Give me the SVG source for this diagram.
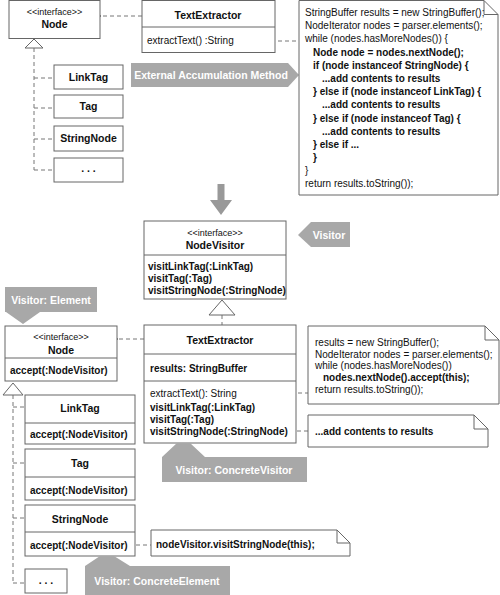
<svg xmlns="http://www.w3.org/2000/svg" width="500" height="595" viewBox="0 0 500 595">
<defs>
<marker id="open" markerWidth="12" markerHeight="10" refX="1" refY="5" orient="auto" markerUnits="userSpaceOnUse">
<polyline points="10,1 1,5 10,9" fill="none" stroke="#666" stroke-width="1"/>
</marker>
</defs>
<style>
text{font-family:"Liberation Sans",Arial,sans-serif;fill:#111}
.box{fill:#fff;stroke:#666;stroke-width:1}
.ln{stroke:#666;stroke-width:1}
.dash{fill:none;stroke:#777;stroke-width:1;stroke-dasharray:4,3}
.tri{fill:#fff;stroke:#666;stroke-width:1}
.st{font-size:9px;text-anchor:middle}
.nm{font-size:10.5px;font-weight:bold;text-anchor:middle}
.b{font-size:10px;font-weight:bold}
.r{font-size:10px}
.lab{fill:#a8a8a8}
.lt{font-size:10.5px;font-weight:bold;fill:#fff;text-anchor:middle}
.note{fill:#fff;stroke:#666;stroke-width:1}
</style>
<rect width="500" height="595" fill="#fff"/>

<g id="connectors">
<line class="dash" x1="142" y1="16" x2="101" y2="16" marker-end="url(#open)"/>
<line class="dash" x1="236" y1="41" x2="299" y2="41"/>
<polyline class="dash" points="34,48 34,170"/>
<line class="dash" x1="34" y1="78" x2="54" y2="78"/>
<line class="dash" x1="34" y1="108" x2="54" y2="108"/>
<line class="dash" x1="34" y1="139" x2="54" y2="139"/>
<line class="dash" x1="34" y1="170" x2="54" y2="170"/>
<polygon class="tri" points="34,39 25,48 43,48"/>
<polygon fill="#999" points="217.5,184 224.5,184 224.5,200 232,200 221,215 210,200 217.5,200"/>
<line class="dash" x1="222" y1="315" x2="222" y2="325"/>
<polygon class="tri" points="222,300 209,315 235,315"/>
<line class="dash" x1="144" y1="339" x2="118" y2="339" marker-end="url(#open)"/>
<line class="dash" x1="242" y1="393" x2="308" y2="393"/>
<line class="dash" x1="283" y1="431" x2="308" y2="431"/>
<polyline class="dash" points="13,395 13,583"/>
<line class="dash" x1="13" y1="407" x2="25" y2="407"/>
<line class="dash" x1="13" y1="463" x2="25" y2="463"/>
<line class="dash" x1="13" y1="518" x2="25" y2="518"/>
<line class="dash" x1="13" y1="583" x2="25" y2="583"/>
<polygon class="tri" points="13,383 3,395 23,395"/>
<line class="dash" x1="129" y1="545" x2="151" y2="545"/>
</g>

<g id="node-top">
<rect class="box" x="9" y="0.5" width="91" height="38"/>
<text class="st" x="54.5" y="15">&lt;&lt;interface&gt;&gt;</text>
<text class="nm" x="54.5" y="28">Node</text>
</g>

<g id="textextractor-top">
<rect class="box" x="142" y="0.5" width="133" height="52"/>
<line class="ln" x1="142" y1="27" x2="275" y2="27"/>
<text class="nm" x="208" y="19">TextExtractor</text>
<text class="r" x="147" y="44">extractText() :String</text>
</g>

<g id="linktag-top"><rect class="box" x="54" y="65" width="69" height="24"/><text class="nm" x="88.5" y="81">LinkTag</text></g>
<g id="tag-top"><rect class="box" x="54" y="95" width="69" height="23"/><text class="nm" x="88.5" y="110">Tag</text></g>
<g id="stringnode-top"><rect class="box" x="54" y="126" width="69" height="25"/><text class="nm" x="88.5" y="142">StringNode</text></g>
<g id="more-top"><rect class="box" x="54" y="158" width="69" height="24"/><text class="nm" x="88.5" y="172">. . .</text></g>

<g id="label-external">
<polygon class="lab" points="131,63 288,63 299,75 288,87 131,87"/>
<text class="lt" x="211" y="79">External Accumulation Method</text>
</g>

<g id="note-top">
<polygon class="note" points="299,0.5 484,0.5 498,14.5 498,195 299,195"/>
<polyline fill="none" stroke="#666" points="484,0.5 484,14.5 498,14.5"/>
<text class="r" x="305" y="16">StringBuffer results = new StringBuffer();</text>
<text class="r" x="305" y="29">NodeIterator nodes = parser.elements();</text>
<text class="r" x="305" y="42">while (nodes.hasMoreNodes()) {</text>
<text class="b" x="313" y="55.5">Node node = nodes.nextNode();</text>
<text class="b" x="313" y="68.5">if (node instanceof StringNode) {</text>
<text class="b" x="322" y="81.5">...add contents to results</text>
<text class="b" x="313" y="95">} else if (node instanceof LinkTag) {</text>
<text class="b" x="322" y="108">...add contents to results</text>
<text class="b" x="313" y="121.5">} else if (node instanceof Tag) {</text>
<text class="b" x="322" y="134.5">...add contents to results</text>
<text class="b" x="313" y="147.5">} else if ...</text>
<text class="b" x="313" y="160.5">}</text>
<text class="r" x="305" y="173.5">}</text>
<text class="r" x="305" y="187">return results.toString());</text>
</g>

<g id="nodevisitor">
<rect class="box" x="144" y="221" width="142" height="78"/>
<line class="ln" x1="144" y1="255" x2="286" y2="255"/>
<text class="st" x="215" y="236">&lt;&lt;interface&gt;&gt;</text>
<text class="nm" x="215" y="249">NodeVisitor</text>
<text class="b" x="148" y="270">visitLinkTag(:LinkTag)</text>
<text class="b" x="148" y="282">visitTag(:Tag)</text>
<text class="b" x="148" y="294">visitStringNode(:StringNode)</text>
</g>

<g id="label-visitor">
<polygon class="lab" points="298,235 311,222 350,222 350,247 311,247"/>
<text class="lt" x="329" y="239">Visitor</text>
</g>

<g id="label-element">
<polygon class="lab" points="5,287 97,287 97,312 40,312 23,324 6,312 5,312"/>
<text class="lt" x="51" y="304">Visitor: Element</text>
</g>

<g id="node-bottom">
<rect class="box" x="5" y="326" width="112" height="55"/>
<line class="ln" x1="5" y1="358" x2="117" y2="358"/>
<text class="st" x="61" y="340">&lt;&lt;interface&gt;&gt;</text>
<text class="nm" x="61" y="354">Node</text>
<text class="b" x="10" y="374">accept(:NodeVisitor)</text>
</g>

<g id="textextractor-bottom">
<rect class="box" x="144" y="325" width="152" height="118"/>
<line class="ln" x1="144" y1="354" x2="296" y2="354"/>
<line class="ln" x1="144" y1="381" x2="296" y2="381"/>
<text class="nm" x="220" y="344">TextExtractor</text>
<text class="b" x="150" y="372">results: StringBuffer</text>
<text class="r" x="150" y="397">extractText(): String</text>
<text class="b" x="150" y="411">visitLinkTag(:LinkTag)</text>
<text class="b" x="150" y="423">visitTag(:Tag)</text>
<text class="b" x="150" y="435">visitStringNode(:StringNode)</text>
</g>

<g id="note-extract">
<polygon class="note" points="308,326 485,326 499,340 499,404 308,404"/>
<polyline fill="none" stroke="#666" points="485,326 485,340 499,340"/>
<text class="r" x="315" y="345.5">results = new StringBuffer();</text>
<text class="r" x="315" y="357.5">NodeIterator nodes = parser.elements();</text>
<text class="r" x="315" y="369">while (nodes.hasMoreNodes())</text>
<text class="b" x="323" y="381">nodes.nextNode().accept(this);</text>
<text class="r" x="315" y="393">return results.toString());</text>
</g>

<g id="note-visit">
<polygon class="note" points="308,415 474,415 488,429 488,447 308,447"/>
<polyline fill="none" stroke="#666" points="474,415 474,429 488,429"/>
<text class="b" x="315" y="435">...add contents to results</text>
</g>

<g id="label-concretevisitor">
<polygon class="lab" points="162,457 177,443 190,443 205,457 307,457 307,482 162,482"/>
<text class="lt" x="234" y="474">Visitor: ConcreteVisitor</text>
</g>

<g id="linktag-bottom">
<rect class="box" x="25" y="395" width="110" height="49"/>
<line class="ln" x1="25" y1="423" x2="135" y2="423"/>
<text class="nm" x="80" y="412">LinkTag</text>
<text class="b" x="30" y="438">accept(:NodeVisitor)</text>
</g>
<g id="tag-bottom">
<rect class="box" x="25" y="449" width="110" height="51"/>
<line class="ln" x1="25" y1="477" x2="135" y2="477"/>
<text class="nm" x="80" y="467">Tag</text>
<text class="b" x="30" y="494">accept(:NodeVisitor)</text>
</g>
<g id="stringnode-bottom">
<rect class="box" x="25" y="505" width="110" height="51"/>
<line class="ln" x1="25" y1="532" x2="135" y2="532"/>
<text class="nm" x="80" y="523">StringNode</text>
<text class="b" x="30" y="549">accept(:NodeVisitor)</text>
</g>
<g id="more-bottom">
<rect class="box" x="25" y="569" width="42" height="24"/>
<text class="nm" x="46" y="584">. . .</text>
</g>

<g id="note-accept">
<polygon class="note" points="151,530 337,530 350,543 350,556 151,556"/>
<polyline fill="none" stroke="#666" points="337,530 337,543 350,543"/>
<text class="b" x="156" y="548">nodeVisitor.visitStringNode(this);</text>
</g>

<g id="label-concreteelement">
<polygon class="lab" points="85,566 100,556 114,556 130,566 230,566 230,595 85,595"/>
<text class="lt" x="157" y="585">Visitor: ConcreteElement</text>
</g>
</svg>
